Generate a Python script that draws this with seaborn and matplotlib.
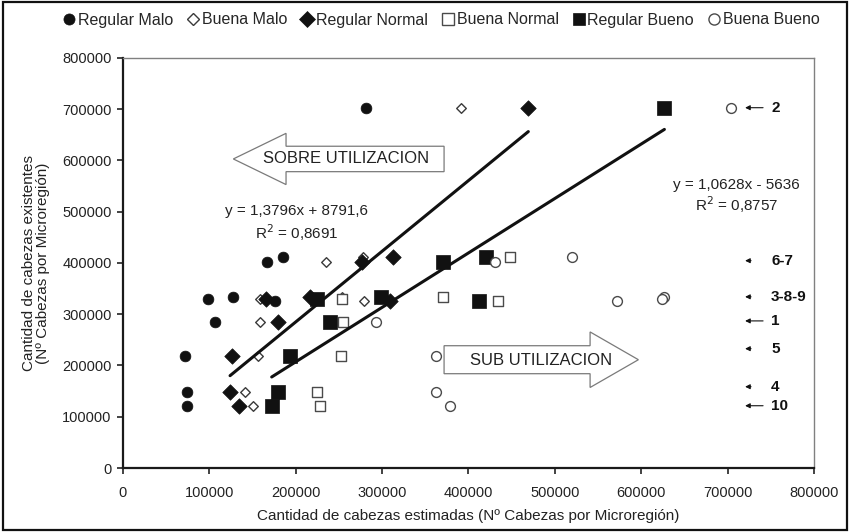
import matplotlib
matplotlib.use("Agg")
import matplotlib.pyplot as plt
import seaborn as sns
import pandas as pd
from matplotlib.patches import Polygon, Rectangle
from matplotlib.lines import Line2D
from matplotlib.ticker import FuncFormatter

# ---------------- data ----------------
# existing heads per microregion (same for every series)
y_existentes = [703000, 412000, 401000, 333000, 329000, 326000, 285000, 218000, 147500, 120000]

regular_malo   = [281600, 185900, 166700, 128000,  98400, 176300, 106800,  72100,  74000,  74000]
buena_malo     = [391200, 278500, 235300, 253500, 158900, 279300, 158900, 156600, 141500, 151200]
regular_normal = [469400, 313200, 276600, 216800, 165900, 309400, 180100, 126900, 124200, 134600]
buena_normal   = [626000, 448300, 372000, 370400, 253500, 434700, 255300, 252300, 224500, 228300]
regular_bueno  = [626900, 420500, 370400, 298900, 224500, 412700, 239900, 193600, 180100, 172400]
buena_bueno    = [704000, 520400, 430900, 626000, 624000, 572500, 293200, 362600, 362600, 379100]

series_names = ["Regular Malo", "Buena Malo", "Regular Normal",
                "Buena Normal", "Regular Bueno", "Buena Bueno"]
series_values = [regular_malo, buena_malo, regular_normal,
                 buena_normal, regular_bueno, buena_bueno]

# trend lines printed on the chart (slope, intercept)
trend_series = ["Regular Normal", "Regular Bueno"]
trend_slopes = [1.3796, 1.0628]
trend_intercepts = [8791.6, -5636]
trend_eq_labels = ["y = 1,3796x + 8791,6", "y = 1,0628x - 5636"]
trend_r2_labels = ["R$^2$ = 0,8691", "R$^2$ = 0,8757"]

region_labels = ["2", "6-7", "3-8-9", "1", "5", "4", "10"]
region_label_y = [703000, 404500, 334000, 287000, 232800, 158600, 121500]
region_arrow_long = [True, False, False, True, False, False, True]

x_label = "Cantidad de cabezas estimadas (N\u00ba Cabezas por Microregi\u00f3n)"
y_label = "Cantidad de cabezas existentes\n(N\u00ba Cabezas por Microregi\u00f3n)"

df = pd.DataFrame({
    "estimadas": sum(series_values, []),
    "existentes": y_existentes * len(series_names),
    "serie": [n for n in series_names for _ in y_existentes],
})

# ---------------- style ----------------
sns.set_theme(style="white")
plt.rcParams["font.family"] = ["Liberation Sans", "DejaVu Sans"]

styles = {
    "Regular Malo":   dict(marker="o", s=60,  color="#111111", edgecolor="#111111", linewidth=0.5),
    "Buena Malo":     dict(marker="D", s=24,  color="white",   edgecolor="#3a3a3a", linewidth=1.0),
    "Regular Normal": dict(marker="D", s=62,  color="#111111", edgecolor="#111111", linewidth=0.5),
    "Buena Normal":   dict(marker="s", s=52,  color="white",   edgecolor="#4a4a4a", linewidth=1.0),
    "Regular Bueno":  dict(marker="s", s=110, color="#111111", edgecolor="#111111", linewidth=0.5),
    "Buena Bueno":    dict(marker="o", s=50,  color="white",   edgecolor="#4a4a4a", linewidth=1.0),
}

fig = plt.figure(figsize=(8.5, 5.32), dpi=100)
ax = fig.add_axes([0.1444, 0.1203, 0.8132, 0.7707])

for name in series_names:
    sub = df[df["serie"] == name]
    sns.scatterplot(data=sub, x="estimadas", y="existentes", ax=ax,
                    zorder=3, legend=False, **styles[name])

# trend lines over the range of their series
for name, m, b in zip(trend_series, trend_slopes, trend_intercepts):
    xs = df.loc[df["serie"] == name, "estimadas"]
    lx = [xs.min(), xs.max()]
    ly = [m * v + b for v in lx]
    sns.lineplot(x=lx, y=ly, ax=ax, color="#111111", linewidth=2.2, zorder=4,
                 legend=False)

if ax.get_legend() is not None:
    ax.get_legend().remove()

ax.set_xlim(0, 800000)
ax.set_ylim(0, 800000)
ax.set_xticks(range(0, 800001, 100000))
ax.set_yticks(range(0, 800001, 100000))
fmt = FuncFormatter(lambda v, p: f"{int(v)}")
ax.xaxis.set_major_formatter(fmt)
ax.yaxis.set_major_formatter(fmt)
ax.tick_params(axis="both", labelsize=10.5, labelcolor="#222222", direction="out",
               length=4, width=1.2, color="#222222", bottom=True, left=True, pad=4)
ax.tick_params(axis="x", pad=9)
ax.set_xlabel("")
ax.set_ylabel("")
for side in ["left", "bottom"]:
    ax.spines[side].set_color("#1a1a1a")
    ax.spines[side].set_linewidth(1.6)
for side in ["top", "right"]:
    ax.spines[side].set_color("#808080")
    ax.spines[side].set_linewidth(1.0)

# block arrows with text
sobre = [(128000, 603000), (189000, 653000), (189000, 627800), (371900, 627800),
         (371900, 578200), (189000, 578200), (189000, 553000)]
ax.add_patch(Polygon(sobre, closed=True, facecolor="white", edgecolor="#7a7a7a",
                     linewidth=0.9, zorder=2))
ax.text(258400, 603000, "SOBRE UTILIZACION", ha="center", va="center",
        fontsize=12, color="#222222", zorder=5)

sub_arrow = [(371900, 238600), (540900, 238600), (540900, 265500), (596800, 211300),
             (540900, 157100), (540900, 184000), (371900, 184000)]
ax.add_patch(Polygon(sub_arrow, closed=True, facecolor="white", edgecolor="#7a7a7a",
                     linewidth=0.9, zorder=2))
ax.text(484000, 209000, "SUB UTILIZACION", ha="center", va="center",
        fontsize=12, color="#222222", zorder=5)

# equation labels
eq_pos = [(201400, 502000, 459700), (710500, 552800, 513800)]
for (ex, ey, ry), eq, r2 in zip(eq_pos, trend_eq_labels, trend_r2_labels):
    ax.text(ex, ey, eq, ha="center", va="center", fontsize=11, color="#222222")
    ax.text(ex, ry, r2, ha="center", va="center", fontsize=11, color="#222222")

# region labels with arrows
tip_x, long_tail_x, short_tail_x, text_x = 720300, 741100, 727200, 750300
for lab, ly, is_long in zip(region_labels, region_label_y, region_arrow_long):
    tail = long_tail_x if is_long else short_tail_x
    ax.annotate("", xy=(tip_x, ly), xytext=(tail, ly),
                arrowprops=dict(arrowstyle="-|>", color="#111111", lw=0.8,
                                mutation_scale=7, shrinkA=0, shrinkB=0))
    ax.text(text_x, ly, lab, ha="left", va="center", fontsize=11,
            fontweight="bold", color="#111111")

# axis titles
fig.text(36 / 850, 0.505, y_label, rotation=90, ha="center", va="center",
         fontsize=11, color="#222222", multialignment="center", linespacing=1.05)
fig.text(468 / 850, 1 - 516 / 532, x_label, ha="center", va="center",
         fontsize=11, color="#222222")

# legend on top
handles = []
legend_ms = {"Regular Malo": 8, "Buena Malo": 6, "Regular Normal": 8,
             "Buena Normal": 8, "Regular Bueno": 9, "Buena Bueno": 8}
for name in series_names:
    st = styles[name]
    handles.append(Line2D([], [], linestyle="none", marker=st["marker"],
                          markersize=legend_ms[name],
                          markerfacecolor=st["color"], markeredgecolor=st["edgecolor"],
                          markeredgewidth=st["linewidth"]))
fig.legend(handles, series_names, loc="center", bbox_to_anchor=(0.518, 1 - 20 / 532),
           ncol=6, frameon=False, fontsize=11.5, handletextpad=0.05, columnspacing=0.75,
           handlelength=1.0, borderaxespad=0)

# outer frame
fig.patches.append(Rectangle((0.003, 0.004), 0.994, 0.992, transform=fig.transFigure,
                             fill=False, edgecolor="#111111", linewidth=1.6))

fig.savefig("out.png", dpi=100)
